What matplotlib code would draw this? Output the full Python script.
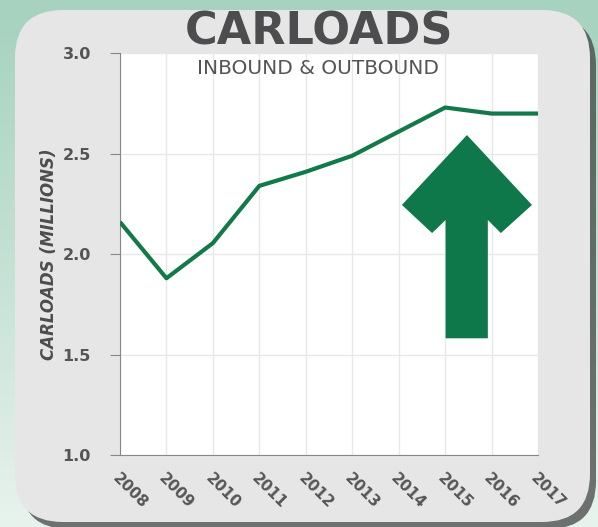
import matplotlib
matplotlib.use("Agg")
import matplotlib.pyplot as plt
import numpy as np
from matplotlib.patches import FancyBboxPatch, Polygon
from matplotlib.colors import LinearSegmentedColormap

years = [2008, 2009, 2010, 2011, 2012, 2013, 2014, 2015, 2016, 2017]
carloads = [2.16, 1.88, 2.055, 2.34, 2.41, 2.49, 2.61, 2.73, 2.70, 2.70]
yticks = [1.0, 1.5, 2.0, 2.5, 3.0]

W, H = 598, 527
fig = plt.figure(figsize=(W / 100, H / 100), dpi=100)

# background gradient
bg = fig.add_axes([0, 0, 1, 1], zorder=-10)
grad = np.linspace(0, 1, 256).reshape(-1, 1)
cmap = LinearSegmentedColormap.from_list("g", ["#a6d2bf", "#c4e1d4", "#e8f3ee"])
bg.imshow(grad, aspect="auto", cmap=cmap, extent=[0, W, H, 0])
bg.set_xlim(0, W)
bg.set_ylim(H, 0)
bg.axis("off")

# shadow and card
shadow = FancyBboxPatch((21, 17), 575, 512, boxstyle="round,pad=0,rounding_size=48",
                        fc="#3a3a3a", ec="none", alpha=0.7)
bg.add_patch(shadow)
card = FancyBboxPatch((15, 10), 575, 512, boxstyle="round,pad=0,rounding_size=48",
                      fc="#e6e6e6", ec="none")
bg.add_patch(card)

ax = fig.add_axes([120 / W, 1 - 455 / H, (538 - 120) / W, (455 - 53.3) / H])
ax.set_facecolor("white")
ax.plot(years, carloads, color="#127a4a", lw=3, solid_capstyle="butt", zorder=3)
ax.set_xlim(2008, 2017)
ax.set_ylim(1.0, 3.0)
ax.set_yticks(yticks)
ax.set_yticklabels([f"{v:.1f}" for v in yticks], fontsize=11.5, fontweight="bold", color="#555555")
ax.set_xticks(years)
ax.set_xticklabels([str(y) for y in years], rotation=-45, ha="left", va="top",
                   rotation_mode="anchor", fontsize=11, fontweight="bold", color="#555555")
ax.grid(True, color="#e8e8e8", lw=1)
ax.set_axisbelow(True)
for s in ["top", "right"]:
    ax.spines[s].set_visible(False)
ax.spines["left"].set_color("#888888")
ax.spines["bottom"].set_color("#888888")
ax.tick_params(axis="y", length=7, color="#888888", pad=14)
ax.tick_params(axis="x", length=0, pad=11)
ax.set_ylabel("CARLOADS (MILLIONS)", fontsize=12, fontweight="bold", style="italic",
              color="#4d4d4d", labelpad=3)

# arrow decoration (data coords)
arrow = [(2015.47, 2.593), (2016.87, 2.245), (2016.20, 2.105), (2015.92, 2.170),
         (2015.92, 1.581), (2015.01, 1.581), (2015.01, 2.170), (2014.72, 2.105),
         (2014.07, 2.245)]
ax.add_patch(Polygon(arrow, closed=True, fc="#0f784b", ec="none", zorder=4))

fig.text(319 / W, 1 - 32 / H, "CARLOADS", ha="center", va="center", fontsize=32,
         fontweight="bold", family="DejaVu Sans", color="#4d4d4f")
fig.text(318 / W, 1 - 69 / H, "INBOUND & OUTBOUND", ha="center", va="center", fontsize=14.5,
         family="DejaVu Sans", color="#555555")

fig.savefig("out.png", dpi=100)
